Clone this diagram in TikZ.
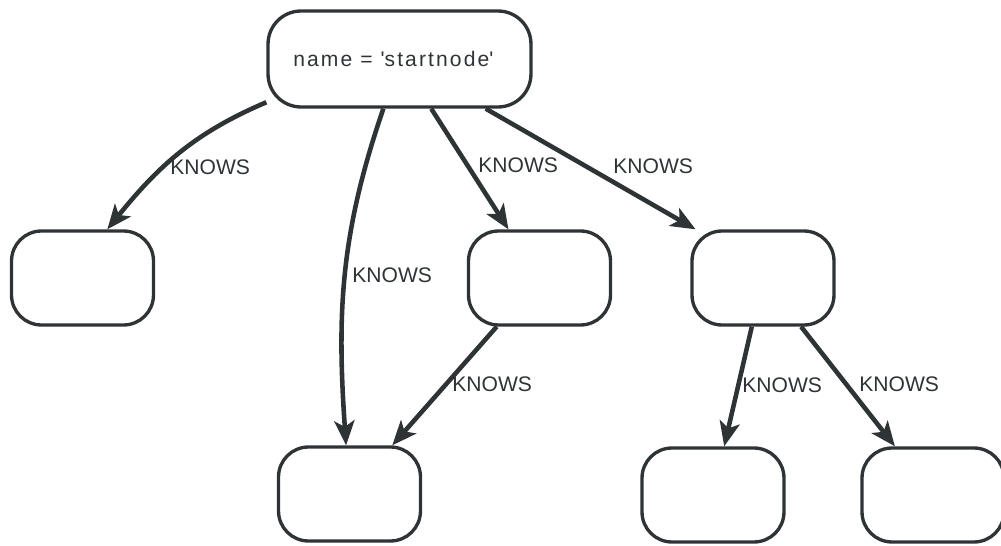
\documentclass[tikz,border=0pt]{standalone}
\usepackage{fontspec}
\setmainfont{Liberation Sans}
\usepackage{tikz}
\usetikzlibrary{arrows.meta}
\definecolor{graphdark}{RGB}{46,52,54}

\begin{document}
\begin{tikzpicture}[x=0.02cm, y=0.02cm, font=\fontsize{12}{14}\selectfont,
  box/.style={draw=graphdark, line width=1.9pt, rounded corners=0.6cm, minimum width=2.84cm, minimum height=1.88cm, inner sep=0pt, text=graphdark},
  startbox/.style={box, rounded corners=0.66cm, minimum width=5.26cm, minimum height=1.92cm},
  knows/.style={-{Stealth[length=14pt, width=11.5pt, inset=3.5pt]}, line width=2.6pt, graphdark},
  lbl/.style={anchor=west, inner sep=0pt, text=graphdark}]
\clip (0,0) rectangle (1001,545);

\node[startbox] (start) at (399.5,486) {\addfontfeature{LetterSpace=10}name = \textquotesingle startnode\textquotesingle\hspace*{7pt}};
\node[box] (a) at (82.5,267) {};
\node[box] (b) at (539.5,267) {};
\node[box] (c) at (763,267) {};
\node[box] (d) at (349.5,51) {};
\node[box] (e) at (713,50) {};
\node[box] (f) at (933,50) {};

\draw[knows] (start.-162) to[out=-157, in=51] (a.63);
\draw[knows] (start.-108) to[out=-109, in=94] (d.94);
\draw[knows] (start) -- (b);
\draw[knows] (start) -- ([xshift=3pt]c.north west);
\draw[knows] (b) -- (d);
\draw[knows] (c) -- (e);
\draw[knows] (c) -- (f);

\node[lbl] (k1) at (170,378) {KNOWS};
\node[lbl] (k2) at (352,270) {KNOWS};
\node[lbl] (k3) at (478,380) {KNOWS};
\node[lbl] (k4) at (613,379) {KNOWS};
\node[lbl] (k5) at (452,161) {KNOWS};
\node[lbl] (k6) at (742,160) {KNOWS};
\node[lbl] (k7) at (859,161) {KNOWS};
\end{tikzpicture}
\end{document}
